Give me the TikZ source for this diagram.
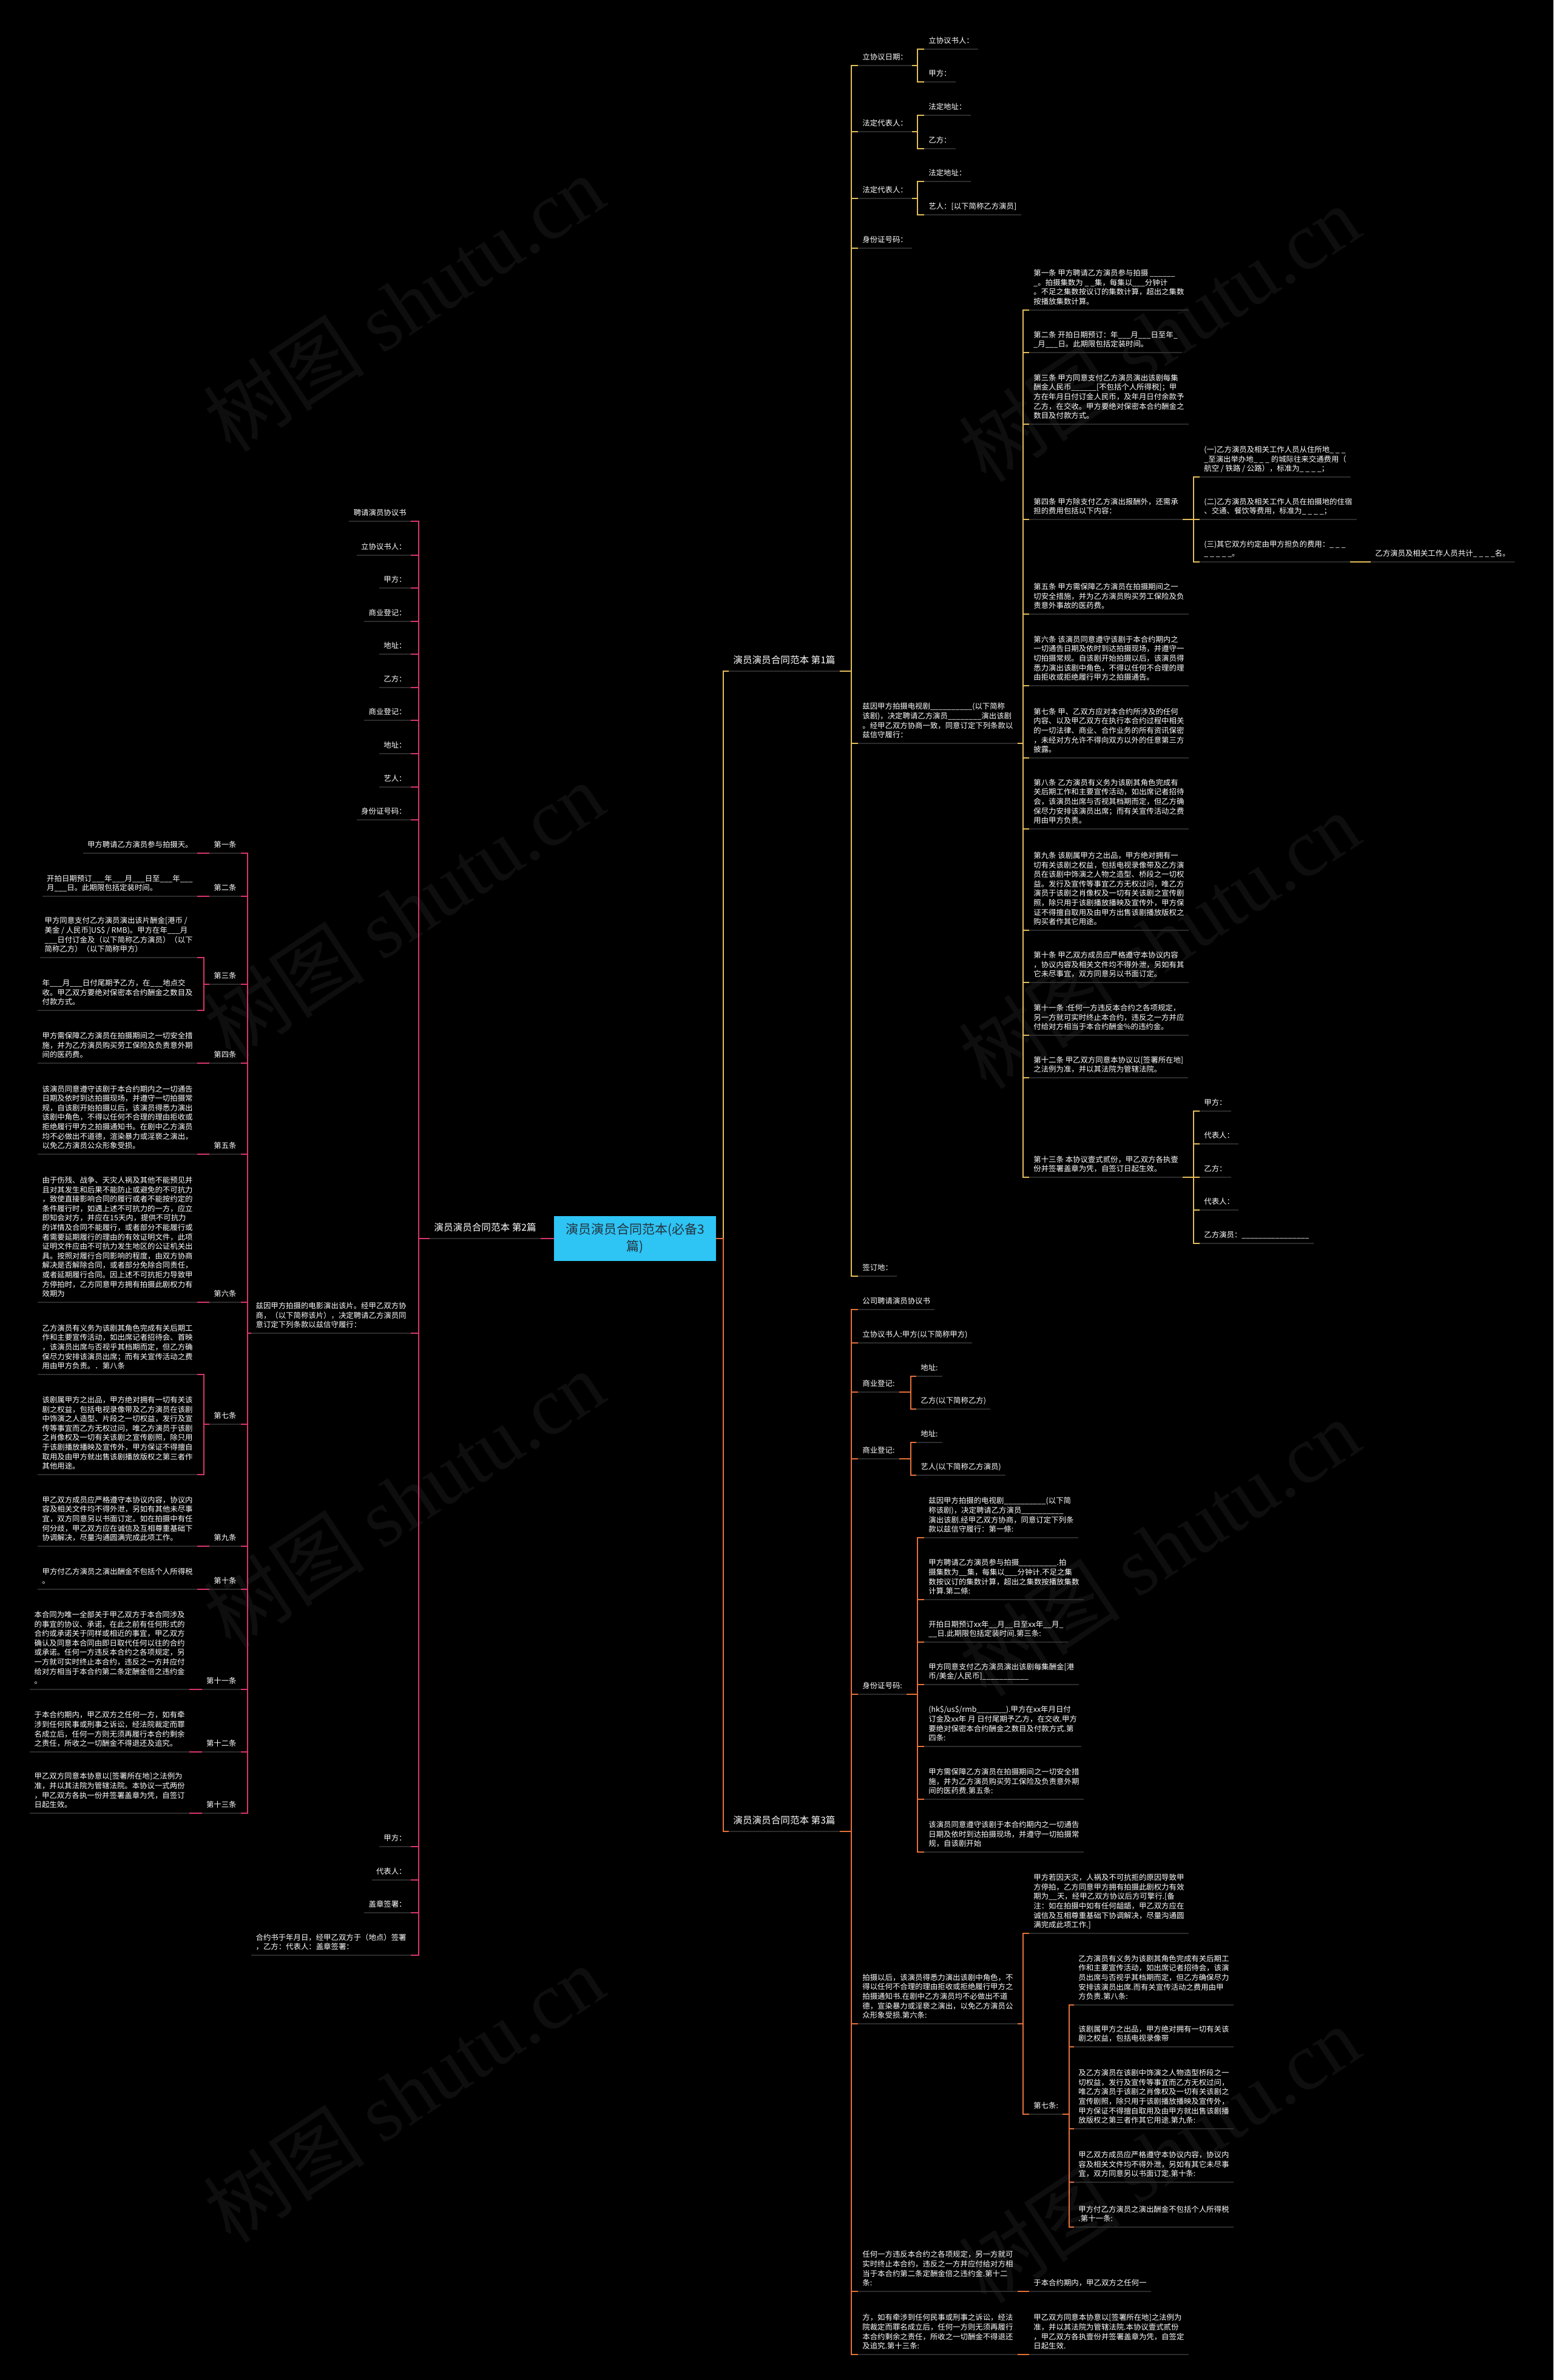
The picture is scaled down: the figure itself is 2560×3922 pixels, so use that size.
\documentclass[tikz,border=0pt]{standalone}
\usepackage{fontspec}
\setmainfont{Noto Sans CJK SC}
\newfontfamily\wmfont{Liberation Serif}
\definecolor{gold}{HTML}{E3BD5B}
\definecolor{pinkc}{HTML}{D8356A}
\definecolor{orangec}{HTML}{E4703A}
\definecolor{ulc}{HTML}{2C2C2C}
\definecolor{cyanbox}{HTML}{2EC4F4}
\definecolor{boxtext}{HTML}{26323C}
\definecolor{wm}{HTML}{0E0E0E}
\begin{document}
\begin{tikzpicture}[x=0.5pt,y=-0.5pt,
  base/.style={text=white, font=\fontsize{6.2}{7.8}\selectfont, inner xsep=3.5pt, inner ysep=3pt, text depth=1.5pt, align=left},
  ul/.style={draw=ulc, line width=1pt},
  rn/.style={base, anchor=south west, append after command={(\tikzlastnode.south west) edge[ul] (\tikzlastnode.south east)}},
  ln/.style={base, anchor=south east, append after command={(\tikzlastnode.south west) edge[ul] (\tikzlastnode.south east)}},
  rlbl/.style={rn, font=\fontsize{7.8}{9.5}\selectfont, inner ysep=4.5pt},
  llbl/.style={ln, font=\fontsize{7.8}{9.5}\selectfont, inner ysep=4.5pt},
  cg/.style={draw=gold, line width=0.9pt},
  cp/.style={draw=pinkc, line width=0.9pt},
  co/.style={draw=orangec, line width=0.9pt},
  hub/.style={fill=cyanbox, text=boxtext, font=\fontsize{10.5}{14}\selectfont, align=center, minimum width=133.5pt, minimum height=37pt, inner sep=0pt},
  wmk/.style={text=wm, font=\fontsize{67}{70}\selectfont, rotate=33.5, inner sep=0pt}
]
\fill[black] (0,0) rectangle (2560,3922);
\useasboundingbox (0,0) rectangle (2560,3922);

% watermarks
\foreach \wx/\wy [count=\wi] in {665/500,665/1500,665/2470,665/3450,1910/550,1910/1550,1910/2550,1910/3550}
  \node[wmk] (wm\wi) at (\wx,\wy) {树图 {\wmfont shutu.cn}};

% vertical guide coordinates
\coordinate (vt) at (1192,0);
\coordinate (v1) at (1403,0);
\coordinate (v1a) at (1512,0);
\coordinate (v1k) at (1686,0);
\coordinate (v1m) at (1967,0);
\coordinate (v3s) at (1501,0);
\coordinate (v3q) at (1512,0);
\coordinate (v3r) at (1686,0);
\coordinate (v3t) at (1762,0);
\coordinate (v2) at (690,0);
\coordinate (v2f) at (408,0);
\coordinate (v2g) at (336,0);

% hub
\node[hub] (hub) at (1046.5,2041) {演员演员合同范本(必备3\\篇)};

% ===== Branch 1 =====
\node[rlbl] (b1) at (1201,1106) {演员演员合同范本 第1篇};
\node[rn] (a1) at (1414,108) {立协议日期：};
\node[rn] (a1a) at (1523,81) {立协议书人：};
\node[rn] (a1b) at (1523,135) {甲方：};
\node[rn] (a2) at (1414,217) {法定代表人：};
\node[rn] (a2a) at (1523,190) {法定地址：};
\node[rn] (a2b) at (1523,245) {乙方：};
\node[rn] (a3) at (1414,327) {法定代表人：};
\node[rn] (a3a) at (1523,299) {法定地址：};
\node[rn] (a3b) at (1523,354) {艺人：[以下简称乙方演员]};
\node[rn] (a4) at (1414,409) {身份证号码：};
\node[rn] (a5) at (1414,1225) {兹因甲方拍摄电视剧\_\_\_\_\_\_\_\_\_\_(以下简称\\该剧)，决定聘请乙方演员\_\_\_\_\_\_\_\_演出该剧\\。经甲乙双方协商一致，同意订定下列条款以\\兹信守履行：};
\node[rn] (a6) at (1414,2103) {签订地：};

\node[rn] (k1) at (1696,511) {第一条 甲方聘请乙方演员参与拍摄 \_\_\_\_\_\_\\\_。拍摄集数为 \_ \_集，每集以\_\_\_分钟计\\。不足之集数按议订的集数计算，超出之集数\\按播放集数计算。};
\node[rn] (k2) at (1696,581) {第二条 开拍日期预订：年\_\_\_月\_\_\_日至年\_\\\_月\_\_\_日。此期限包括定装时间。};
\node[rn] (k3) at (1696,699) {第三条 甲方同意支付乙方演员演出该剧每集\\酬金人民币\_\_\_\_\_\_[不包括个人所得税]；甲\\方在年月日付订金人民币，及年月日付余款予\\乙方，在交收。甲方要绝对保密本合约酬金之\\数目及付款方式。};
\node[rn] (k4) at (1696,856) {第四条 甲方除支付乙方演出报酬外，还需承\\担的费用包括以下内容：};
\node[rn] (k4a) at (1977,786) {(一)乙方演员及相关工作人员从住所地\_ \_ \_\\\_至演出举办地\_ \_ \_ 的城际往来交通费用（\\航空 / 铁路 / 公路），标准为\_ \_ \_ \_；};
\node[rn] (k4b) at (1977,856) {(二)乙方演员及相关工作人员在拍摄地的住宿\\、交通、餐饮等费用，标准为\_ \_ \_ \_；};
\node[rn] (k4c) at (1977,926) {(三)其它双方约定由甲方担负的费用：\_ \_ \_\\\_ \_ \_ \_ \_。};
\node[rn] (k4d) at (2259,926) {乙方演员及相关工作人员共计\_ \_ \_ \_名。};
\node[rn] (k5) at (1696,1012) {第五条 甲方需保障乙方演员在拍摄期间之一\\切安全措施，并为乙方演员购买劳工保险及负\\责意外事故的医药费。};
\node[rn] (k6) at (1696,1130) {第六条 该演员同意遵守该剧于本合约期内之\\一切通告日期及依时到达拍摄现场，并遵守一\\切拍摄常规。自该剧开始拍摄以后，该演员得\\悉力演出该剧中角色，不得以任何不合理的理\\由拒收或拒绝履行甲方之拍摄通告。};
\node[rn] (k7) at (1696,1249) {第七条 甲、乙双方应对本合约所涉及的任何\\内容、以及甲乙双方在执行本合约过程中相关\\的一切法律、商业、合作业务的所有资讯保密\\，未经对方允许不得向双方以外的任意第三方\\披露。};
\node[rn] (k8) at (1696,1366) {第八条 乙方演员有义务为该剧其角色完成有\\关后期工作和主要宣传活动，如出席记者招待\\会，该演员出席与否视其档期而定，但乙方确\\保尽力安排该演员出席；而有关宣传活动之费\\用由甲方负责。};
\node[rn] (k9) at (1696,1533) {第九条 该剧属甲方之出品，甲方绝对拥有一\\切有关该剧之权益，包括电视录像带及乙方演\\员在该剧中饰演之人物之造型、桥段之一切权\\益。发行及宣传等事宜乙方无权过问，唯乙方\\演员于该剧之肖像权及一切有关该剧之宣传剧\\照，除只用于该剧播放播映及宣传外，甲方保\\证不得擅自取用及由甲方出售该剧播放版权之\\购买者作其它用途。};
\node[rn] (k10) at (1696,1619) {第十条 甲乙双方成员应严格遵守本协议内容\\，协议内容及相关文件均不得外泄，另如有其\\它未尽事宜，双方同意另以书面订定。};
\node[rn] (k11) at (1696,1706) {第十一条 :任何一方违反本合约之各项规定，\\另一方就可实时终止本合约，违反之一方并应\\付给对方相当于本合约酬金\%的违约金。};
\node[rn] (k12) at (1696,1776) {第十二条 甲乙双方同意本协议以[签署所在地]\\ 之法例为准，并以其法院为管辖法院。};
\node[rn] (k13) at (1696,1940) {第十三条 本协议壹式贰份，甲乙双方各执壹\\份并签署盖章为凭，自签订日起生效。};
\node[rn] (m1) at (1977,1831) {甲方：};
\node[rn] (m2) at (1977,1885) {代表人：};
\node[rn] (m3) at (1977,1940) {乙方：};
\node[rn] (m4) at (1977,1994) {代表人：};
\node[rn] (m5) at (1977,2049) {乙方演员：\_\_\_\_\_\_\_\_\_\_\_\_\_\_\_\_};

% ===== Branch 3 =====
\node[rlbl] (b3) at (1201,3018) {演员演员合同范本 第3篇};
\node[rn] (p1) at (1414,2158) {公司聘请演员协议书};
\node[rn] (p2) at (1414,2213) {立协议书人:甲方(以下简称甲方)};
\node[rn] (p3) at (1414,2294) {商业登记:};
\node[rn] (p3a) at (1510,2268) {地址:};
\node[rn] (p3b) at (1510,2322) {乙方(以下简称乙方)};
\node[rn] (p4) at (1414,2404) {商业登记:};
\node[rn] (p4a) at (1510,2377) {地址:};
\node[rn] (p4b) at (1510,2431) {艺人(以下简称乙方演员)};
\node[rn] (p5) at (1414,2792) {身份证号码:};
\node[rn] (q1) at (1523,2534) {兹因甲方拍摄的电视剧\_\_\_\_\_\_\_\_\_\_(以下简\\称该剧)，决定聘请乙方演员\_\_\_\_\_\_\_\_\_\_\\演出该剧.经甲乙双方协商，同意订定下列条\\款以兹信守履行：第一條:};
\node[rn] (q2) at (1523,2636) {甲方聘请乙方演员参与拍摄\_\_\_\_\_\_\_\_\_.拍\\摄集数为\_\_集，每集以\_\_\_分钟计.不足之集\\数按议订的集数计算，超出之集数按播放集数\\计算.第二條:};
\node[rn] (q3) at (1523,2706) {开拍日期预订xx年\_\_月\_\_日至xx年\_\_月\_\\\_\_日.此期限包括定装时间.第三条:};
\node[rn] (q4) at (1523,2776) {甲方同意支付乙方演员演出该剧每集酬金[港\\币/美金/人民币]\_\_\_\_\_\_\_\_\_\_\_};
\node[rn] (q5) at (1523,2878) {(hk\$/us\$/rmb\_\_\_\_\_\_\_).甲方在xx年月日付\\订金及xx年 月 日付尾期予乙方，在交收.甲方\\要绝对保密本合约酬金之数目及付款方式.第\\四条:};
\node[rn] (q6) at (1523,2965) {甲方需保障乙方演员在拍摄期间之一切安全措\\施，并为乙方演员购买劳工保险及负责意外期\\间的医药费.第五条:};
\node[rn] (q7) at (1523,3052) {该演员同意遵守该剧于本合约期内之一切通告\\日期及依时到达拍摄现场，并遵守一切拍摄常\\规，自该剧开始};
\node[rn] (p6) at (1414,3335) {拍摄以后，该演员得悉力演出该剧中角色，不\\得以任何不合理的理由拒收或拒绝履行甲方之\\拍摄通知书.在剧中乙方演员均不必做出不道\\德，宣染暴力或淫亵之演出，以免乙方演员公\\众形象受损.第六条:};
\node[rn] (r1) at (1696,3186) {甲方若因天灾，人祸及不可抗拒的原因导致甲\\方停拍，乙方同意甲方拥有拍摄此剧权力有效\\期为\_\_天，经甲乙双方协议后方可擎行.[备\\注：如在拍摄中如有任何龃龉，甲乙双方应在\\诚信及互相尊重基础下协调解决，尽量沟通圆\\满完成此项工作.]};
\node[rn] (r2) at (1696,3484) {第七条:};
\node[rn] (s1) at (1770,3304) {乙方演员有义务为该剧其角色完成有关后期工\\作和主要宣传活动，如出席记者招待会，该演\\员出席与否视乎其档期而定，但乙方确保尽力\\安排该演员出席.而有关宣传活动之费用由甲\\方负责.第八条:};
\node[rn] (s2) at (1770,3373) {该剧属甲方之出品，甲方绝对拥有一切有关该\\剧之权益，包括电视录像带};
\node[rn] (s3) at (1770,3508) {及乙方演员在该剧中饰演之人物造型桥段之一\\切权益，发行及宣传等事宜而乙方无权过问，\\唯乙方演员于该剧之肖像权及一切有关该剧之\\宣传剧照，除只用于该剧播放播映及宣传外，\\甲方保证不得擅自取用及由甲方就出售该剧播\\放版权之第三者作其它用途.第九条:};
\node[rn] (s4) at (1770,3596) {甲乙双方成员应严格遵守本协议内容，协议内\\容及相关文件均不得外泄，另如有其它未尽事\\宜，双方同意另以书面订定.第十条:};
\node[rn] (s5) at (1770,3670) {甲方付乙方演员之演出酬金不包括个人所得税\\.第十一条:};
\node[rn] (p7) at (1414,3776) {任何一方违反本合约之各项规定，另一方就可\\实时终止本合约，违反之一方并应付给对方相\\当于本合约第二条定酬金倍之违约金.第十二\\条:};
\node[rn] (t1) at (1696,3776) {于本合约期内，甲乙双方之任何一};
\node[rn] (p8) at (1414,3880) {方，如有牵涉到任何民事或刑事之诉讼，经法\\院裁定而罪名成立后，任何一方则无须再履行\\本合约剩余之责任，所收之一切酬金不得退还\\及追究.第十三条:};
\node[rn] (t2) at (1696,3880) {甲乙双方同意本协意以[签署所在地]之法例为\\准，并以其法院为管辖法院.本协议壹式贰份\\，甲乙双方各执壹份并签署盖章为凭，自签定\\日起生效.};

% ===== Branch 2 =====
\node[llbl] (b2) at (891,2041) {演员演员合同范本 第2篇};
\node[ln] (e1) at (677,859) {聘请演员协议书};
\node[ln] (e2) at (677,915) {立协议书人：};
\node[ln] (e3) at (677,969) {甲方：};
\node[ln] (e4) at (677,1024) {商业登记：};
\node[ln] (e5) at (677,1078) {地址：};
\node[ln] (e6) at (677,1133) {乙方：};
\node[ln] (e7) at (677,1187) {商业登记：};
\node[ln] (e8) at (677,1242) {地址：};
\node[ln] (e9) at (677,1297) {艺人：};
\node[ln] (e10) at (677,1351) {身份证号码：};
\node[ln] (e11) at (677,2197) {兹因甲方拍摄的电影演出该片。经甲乙双方协\\商，（以下简称该片），决定聘请乙方演员同\\意订定下列条款以兹信守履行：};
\node[ln] (e12) at (677,3043) {甲方：};
\node[ln] (e13) at (677,3098) {代表人：};
\node[ln] (e14) at (677,3152) {盖章签署：};
\node[ln] (e15) at (677,3222) {合约书于年月日，经甲乙双方于（地点）签署\\，乙方：代表人：盖章签署：};

\node[ln] (f1) at (397,1406) {第一条};
\node[ln] (f2) at (397,1477) {第二条};
\node[ln] (f3) at (397,1622) {第三条};
\node[ln] (f4) at (397,1752) {第四条};
\node[ln] (f5) at (397,1902) {第五条};
\node[ln] (f6) at (397,2146) {第六条};
\node[ln] (f7) at (397,2347) {第七条};
\node[ln] (f9) at (397,2548) {第九条};
\node[ln] (f10) at (397,2619) {第十条};
\node[ln] (f11) at (397,2784) {第十一条};
\node[ln] (f12) at (397,2887) {第十二条};
\node[ln] (f13) at (397,2988) {第十三条};

\node[ln] (g1) at (325,1406) {甲方聘请乙方演员参与拍摄天。};
\node[ln] (g2) at (325,1477) {开拍日期预订\_\_\_年\_\_\_月\_\_\_日至\_\_\_年\_\_\_\\月\_\_\_日。此期限包括定装时间。};
\node[ln] (g3a) at (325,1578) {甲方同意支付乙方演员演出该片酬金[港币 /\\美金 / 人民币]US\$ / RMB)。甲方在年\_\_\_月\\\_\_\_日付订金及（以下简称乙方演员）（以下\\简称乙方）（以下简称甲方）};
\node[ln] (g3b) at (325,1665) {年\_\_\_月\_\_\_日付尾期予乙方，在\_\_\_地点交\\收。甲乙双方要绝对保密本合约酬金之数目及\\付款方式。};
\node[ln] (g4) at (325,1752) {甲方需保障乙方演员在拍摄期间之一切安全措\\施，并为乙方演员购买劳工保险及负责意外期\\间的医药费。};
\node[ln] (g5) at (325,1902) {该演员同意遵守该剧于本合约期内之一切通告\\日期及依时到达拍摄现场，并遵守一切拍摄常\\规，自该剧开始拍摄以后，该演员得悉力演出\\该剧中角色，不得以任何不合理的理由拒收或\\拒绝履行甲方之拍摄通知书。在剧中乙方演员\\均不必做出不道德，渲染暴力或淫亵之演出，\\以免乙方演员公众形象受损。};
\node[ln] (g6) at (325,2146) {由于伤残、战争、天灾人祸及其他不能预见并\\且对其发生和后果不能防止或避免的不可抗力\\，致使直接影响合同的履行或者不能按约定的\\条件履行时，如遇上述不可抗力的一方，应立\\即知会对方，并应在15天内，提供不可抗力\\的详情及合同不能履行，或者部分不能履行或\\者需要延期履行的理由的有效证明文件，此项\\证明文件应由不可抗力发生地区的公证机关出\\具。按照对履行合同影响的程度，由双方协商\\解决是否解除合同，或者部分免除合同责任，\\或者延期履行合同。因上述不可抗拒力导致甲\\方停拍时，乙方同意甲方拥有拍摄此剧权力有\\效期为};
\node[ln] (g7a) at (325,2265) {乙方演员有义务为该剧其角色完成有关后期工\\作和主要宣传活动，如出席记者招待会、首映\\，该演员出席与否视乎其档期而定，但乙方确\\保尽力安排该演员出席；而有关宣传活动之费\\用由甲方负责。．第八条};
\node[ln] (g7b) at (325,2430) {该剧属甲方之出品，甲方绝对拥有一切有关该\\剧之权益，包括电视录像带及乙方演员在该剧\\中饰演之人造型、片段之一切权益，发行及宣\\传等事宜而乙方无权过问，唯乙方演员于该剧\\之肖像权及一切有关该剧之宣传剧照，除只用\\于该剧播放播映及宣传外，甲方保证不得擅自\\取用及由甲方就出售该剧播放版权之第三者作\\其他用途。};
\node[ln] (g9) at (325,2548) {甲乙双方成员应严格遵守本协议内容，协议内\\容及相关文件均不得外泄，另如有其他未尽事\\宜，双方同意另以书面订定。如在拍摄中有任\\何分歧，甲乙双方应在诚信及互相尊重基础下\\协调解决，尽量沟通圆满完成此项工作。};
\node[ln] (g10) at (325,2619) {甲方付乙方演员之演出酬金不包括个人所得税\\。};
\node[ln] (g11) at (312,2784) {本合同为唯一全部关于甲乙双方于本合同涉及\\的事宜的协议、承诺，在此之前有任何形式的\\合约或承诺关于同样或相近的事宜，甲乙双方\\确认及同意本合同由即日取代任何以往的合约\\或承诺。任何一方违反本合约之各项规定，另\\一方就可实时终止本合约，违反之一方并应付\\给对方相当于本合约第二条定酬金倍之违约金\\。};
\node[ln] (g12) at (312,2887) {于本合约期内，甲乙双方之任何一方，如有牵\\涉到任何民事或刑事之诉讼，经法院裁定而罪\\名成立后，任何一方则无须再履行本合约剩余\\之责任，所收之一切酬金不得退还及追究。};
\node[ln] (g13) at (312,2988) {甲乙双方同意本协意以[签署所在地]之法例为\\准，并以其法院为管辖法院。本协议一式两份\\，甲乙双方各执一份并签署盖章为凭，自签订\\日起生效。};

% ===== connectors =====
\draw[cg] (hub.east) -- (hub.east -| vt) |- (b1.south west);
\draw[co] (hub.east) -- (hub.east -| vt) |- (b3.south west);
\draw[cp] (hub.west) -- (b2.south east);

\foreach \nn in {a1,a2,a3,a4,a5,a6}
  \draw[cg] (b1.south east) -- (b1.south east -| v1) |- (\nn.south west);
\foreach \pp/\nn in {a1/a1a,a1/a1b,a2/a2a,a2/a2b,a3/a3a,a3/a3b}
  \draw[cg] (\pp.south east) -- (\pp.south east -| v1a) |- (\nn.south west);
\foreach \nn in {k1,k2,k3,k4,k5,k6,k7,k8,k9,k10,k11,k12,k13}
  \draw[cg] (a5.south east) -- (a5.south east -| v1k) |- (\nn.south west);
\foreach \nn in {k4a,k4b,k4c}
  \draw[cg] (k4.south east) -- (k4.south east -| v1m) |- (\nn.south west);
\foreach \nn in {m1,m2,m3,m4,m5}
  \draw[cg] (k13.south east) -- (k13.south east -| v1m) |- (\nn.south west);
\draw[cg] (k4c.south east) -- (k4d.south west);

\foreach \nn in {p1,p2,p3,p4,p5,p6,p7,p8}
  \draw[co] (b3.south east) -- (b3.south east -| v1) |- (\nn.south west);
\foreach \pp/\nn in {p3/p3a,p3/p3b,p4/p4a,p4/p4b}
  \draw[co] (\pp.south east) -- (\pp.south east -| v3s) |- (\nn.south west);
\foreach \nn in {q1,q2,q3,q4,q5,q6,q7}
  \draw[co] (p5.south east) -- (p5.south east -| v3q) |- (\nn.south west);
\foreach \nn in {r1,r2}
  \draw[co] (p6.south east) -- (p6.south east -| v3r) |- (\nn.south west);
\foreach \nn in {s1,s2,s3,s4,s5}
  \draw[co] (r2.south east) -- (r2.south east -| v3t) |- (\nn.south west);
\draw[co] (p7.south east) -- (t1.south west);
\draw[co] (p8.south east) -- (t2.south west);

\foreach \nn in {e1,e2,e3,e4,e5,e6,e7,e8,e9,e10,e11,e12,e13,e14,e15}
  \draw[cp] (b2.south west) -- (b2.south west -| v2) |- (\nn.south east);
\foreach \nn in {f1,f2,f3,f4,f5,f6,f7,f9,f10,f11,f12,f13}
  \draw[cp] (e11.south west) -- (e11.south west -| v2f) |- (\nn.south east);
\foreach \pp/\nn in {f3/g3a,f3/g3b,f7/g7a,f7/g7b}
  \draw[cp] (\pp.south west) -- (\pp.south west -| v2g) |- (\nn.south east);
\foreach \pp/\nn in {f1/g1,f2/g2,f4/g4,f5/g5,f6/g6,f9/g9,f10/g10,f11/g11,f12/g12,f13/g13}
  \draw[cp] (\pp.south west) -- (\nn.south east);
\end{tikzpicture}
\end{document}
